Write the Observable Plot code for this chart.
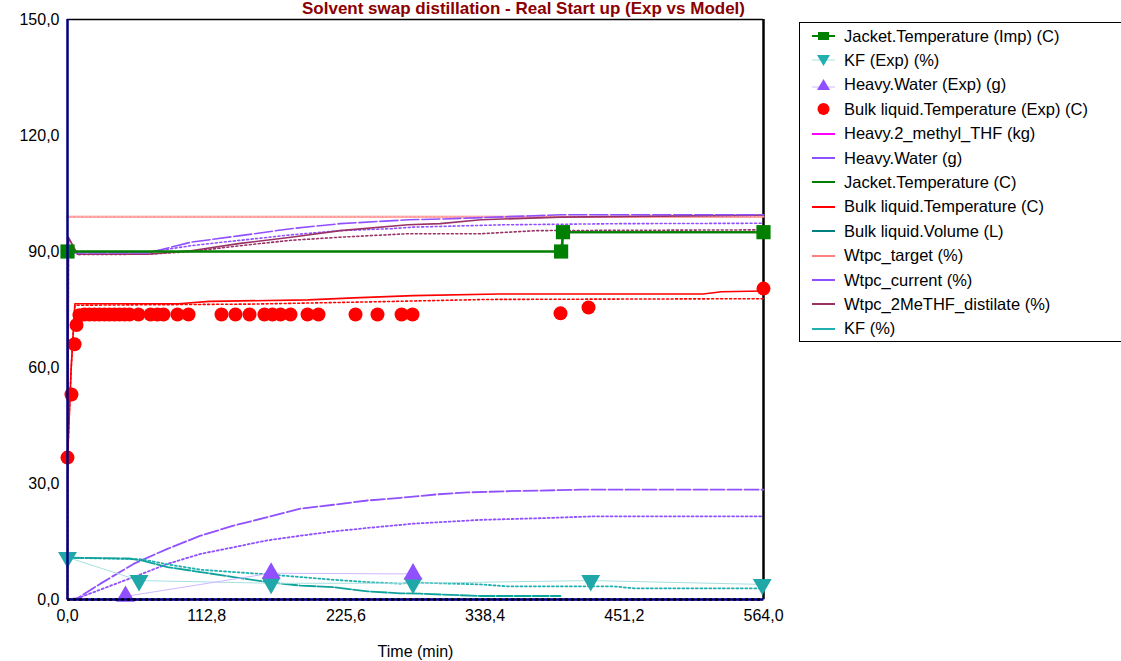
<!DOCTYPE html>
<html><head><meta charset="utf-8">
<script src="https://cdn.jsdelivr.net/npm/d3@7"></script>
<script src="https://cdn.jsdelivr.net/npm/@observablehq/plot@0.6"></script>
<style>
body{margin:0;background:#fff;font-family:Arial,"Liberation Sans",sans-serif;}
#wrap{position:relative;width:1121px;height:661px;overflow:hidden;}
#title{position:absolute;left:0;top:0;width:745px;text-align:right;font:bold 17px/18px Arial,"Liberation Sans",sans-serif;color:#8b0000;white-space:nowrap;}
#legend{position:absolute;left:799px;top:22px;width:330px;height:320px;border:1px solid #000;box-sizing:border-box;background:#fff;}
.row{position:absolute;left:10px;height:24px;display:flex;align-items:center;font:16.5px Arial,"Liberation Sans",sans-serif;color:#000;white-space:nowrap;}
.row svg{margin-right:7px;}
</style></head>
<body><div id="wrap"><div id="chart"></div><div id="title">Solvent swap distillation - Real Start up (Exp vs Model)</div><div id="legend"></div></div>
<script>
// ---- data (time in min, value) ----
const xTicks = [0, 112.8, 225.6, 338.4, 451.2, 564];
const yTicks = [0, 30, 60, 90, 120, 150];

const jacketImp = [[0,90],[400,90],[401.5,95],[564,95]];
const kfExp = [[0,10.9],[58,4.9],[165,4.2],[280,4.2],[424,4.9],[563,3.9]];
const waterExp = [[47,0.8],[165,6.8],[280,6.6]];
const bulkTempExp = [[0,36.7],[3.2,53],[5.7,66],[7.3,71],[9.7,73.5],[13.8,73.7],[17.8,73.7],[21.9,73.7],[25.9,73.7],[30,73.7],[34,73.7],[38.1,73.7],[42.1,73.7],[46.2,73.7],[50.2,73.7],[57.5,73.7],[67.3,73.7],[72.9,73.7],[77.8,73.7],[89.1,73.7],[98.1,73.7],[124.8,73.7],[136.1,73.7],[147.5,73.7],[159.6,73.7],[166.1,73.7],[172.6,73.7],[180.7,73.7],[194.5,73.7],[203.4,73.7],[233.4,73.7],[251.2,73.7],[270.7,73.7],[279.6,73.7],[399.5,74.0],[422.2,75.5],[564,80.4]];

const methylTHF = [[0,0],[564,0]];
const waterModel = [[0,0],[8,0.3],[26.7,4.1],[53.5,9.2],[81,13.1],[107.8,16.5],[134.5,19.1],[162,21.3],[188.8,23.5],[215.6,24.5],[243,25.6],[270,26.3],[299.8,27.2],[324,27.7],[356.6,28.0],[415.7,28.4],[564,28.4]];
const waterModel2 = [[0,0],[8,0.3],[53.5,5.8],[81,9.2],[107.8,11.8],[134.5,13.5],[162,15.3],[188.8,16.5],[215.6,17.6],[243,18.5],[270,19.3],[280,19.6],[334.7,20.6],[381,21.0],[426,21.5],[564,21.5]];
const jacketModel = [[0,90],[401,90],[401.5,95],[564,95]];
const bulkTempModel = [[0,36],[3,60],[6,76.5],[90,76.5],[115,77.1],[195,77.5],[232,78.0],[280,78.6],[350,79.0],[515,79.0],[530,79.6],[564,79.8]];
const bulkTempModel2 = [[0,36],[3,60],[6,76.1],[150,76.4],[250,77.0],[340,77.6],[564,77.8]];
const bulkVolume = [[0,0],[564,0]];
const wtpcTarget = [[0,99],[564,99]];
const wtpcCurrent = [[0,89.6],[65,89.6],[100,92.4],[140,94.1],[181,95.9],[221,97.2],[276,98.2],[302,98.4],[330,98.7],[400,99.5],[564,99.5]];
const wtpcCurrent2 = [[0,89.8],[65,89.8],[100,91.5],[140,92.9],[181,94.3],[221,95.4],[262,95.9],[280,96.3],[353,96.9],[448,97.2],[564,97.3]];
const wtpc2Me = [[0,0],[0.8,93.6],[8,89.3],[65,89.3],[100,90.2],[140,92.1],[181,93.7],[221,95.4],[276,96.9],[302,97.2],[335,98.2],[400,98.9],[564,99.4]];
const wtpc2Me2 = [[0,0],[0.8,93.6],[8,89.2],[65,89.3],[100,90.0],[140,91.5],[181,92.9],[221,93.7],[276,94.6],[335,94.6],[380,95.4],[564,95.6]];
const kfModel = [[0,10.8],[50,10.6],[60,10.1],[81,8.4],[107.8,7.1],[134.5,5.8],[162,4.5],[188.8,3.6],[215.6,3.2],[243,2.1],[270,1.6],[286,1.5],[334.7,0.9],[399.5,0.9]];
const kfModel2 = [[0,10.8],[60,10.4],[81,9.1],[107.8,7.7],[134.5,7.1],[162,6.5],[188.8,5.8],[215.6,5.1],[243,4.5],[270,4.1],[280,4.4],[334.7,3.9],[356.6,3.4],[442,3.4],[459,2.9],[564,2.9]];

const legendItems = [
  ["Jacket.Temperature (Imp) (C)", "#008000", "square"],
  ["KF (Exp) (%)", "#20b0b0", "tridown"],
  ["Heavy.Water (Exp) (g)", "#9050ff", "triup"],
  ["Bulk liquid.Temperature (Exp) (C)", "#ff0000", "circle"],
  ["Heavy.2_methyl_THF (kg)", "#ff00ff", "line"],
  ["Heavy.Water (g)", "#9050ff", "line"],
  ["Jacket.Temperature (C)", "#008000", "line"],
  ["Bulk liquid.Temperature (C)", "#ff0000", "line"],
  ["Bulk liquid.Volume (L)", "#008080", "line"],
  ["Wtpc_target (%)", "#ff8080", "line"],
  ["Wtpc_current (%)", "#9050ff", "line"],
  ["Wtpc_2MeTHF_distilate (%)", "#993366", "line"],
  ["KF (%)", "#20b0b0", "line"]
];

const fx = d => d[0], fy = d => d[1];
const fmt = d => d.toFixed(1).replace(".", ",");
const L = (data, stroke, opts = {}) => Plot.line(data, {x: fx, y: fy, stroke, strokeWidth: 1.6, curve: "linear", ...opts});

const chart = Plot.plot({
  width: 1121, height: 661,
  marginLeft: 67, marginRight: 358, marginTop: 19, marginBottom: 62,
  style: {fontFamily: "Arial, 'Liberation Sans', sans-serif", fontSize: "16px", color: "#000", background: "#fff"},
  x: {domain: [0, 564], ticks: xTicks, tickFormat: fmt, tickSize: 0, tickPadding: 8, label: null},
  y: {domain: [0, 150], ticks: yTicks, tickFormat: fmt, tickSize: 0, tickPadding: 8, label: null},
  marks: [
    Plot.axisX({ticks: xTicks, tickFormat: fmt, tickSize: 0, tickPadding: 10, label: null, fontSize: 16}),
    Plot.axisY({ticks: yTicks, tickFormat: fmt, tickSize: 0, tickPadding: 8, label: null, fontSize: 16}),
    Plot.text(["Time (min)"], {x: 282, y: 0, dy: 57, frameAnchor: "bottom", text: d => d, fontSize: 16}),
    Plot.ruleY([150], {stroke: "#000", strokeWidth: 1.5}),
    Plot.ruleX([564], {stroke: "#000", strokeWidth: 2.5}),
    // model lines
    L(wtpcTarget, "#ff8080", {strokeWidth: 2}),
    L(wtpcTarget, "#ffb0b0", {strokeWidth: 1.5, strokeDasharray: "2,2"}),
    L(wtpc2Me2, "#993366", {strokeDasharray: "2,2.5"}),
    L(wtpcCurrent2, "#9050ff", {strokeDasharray: "2,2.5"}),
    L(wtpc2Me, "#993366"),
    L(wtpcCurrent, "#9050ff", {strokeDasharray: "18,3"}),
    L(jacketModel, "#008000", {strokeWidth: 2}),
    L(bulkTempModel2, "#ff0000", {strokeDasharray: "2,2.5"}),
    L(bulkTempModel, "#ff0000"),
    L(waterModel2, "#9050ff", {strokeDasharray: "2,2.5", strokeWidth: 1.8}),
    L(waterModel, "#9050ff", {strokeDasharray: "14,3", strokeWidth: 1.8}),
    L(kfModel2, "#20b0b0", {strokeDasharray: "2,2.5", strokeWidth: 1.8}),
    L(kfModel, "#10a39b", {strokeDasharray: "16,2", strokeWidth: 1.8}),
    L(bulkVolume, "#008080"),
    L(methylTHF, "#ff00ff"),
    // experimental series
    L(kfExp, "#a8e0e0", {strokeWidth: 1}),
    L(waterExp, "#d0b8ff", {strokeWidth: 1}),
    L(jacketImp, "#008000", {strokeWidth: 2}),
    Plot.dot(jacketImp, {x: fx, y: fy, symbol: "square", r: 8, fill: "#008000"}),
    Plot.dot(kfExp, {x: fx, y: fy, symbol: "triangle", rotate: 180, r: 7, fill: "#20a8a8"}),
    Plot.dot(waterExp, {x: fx, y: fy, symbol: "triangle", r: 7, fill: "#9050ff"}),
    Plot.dot(bulkTempExp, {x: fx, y: fy, r: 7, fill: "#ff0000"}),
    // axes lines
    Plot.ruleX([0], {stroke: "#000080", strokeWidth: 2.5}),
    Plot.ruleY([0], {stroke: "#000080", strokeWidth: 2.5}),
    Plot.ruleY([0], {stroke: "#000", strokeWidth: 2.5, strokeDasharray: "3,3"})
  ]
});
document.getElementById("chart").appendChild(chart);

// legend
const leg = document.getElementById("legend");
legendItems.forEach(([label, color, kind], i) => {
  const row = document.createElement("div");
  row.className = "row";
  row.style.top = (1 + i * 24.4) + "px";
  let sym = "";
  if (kind === "line") sym = `<line x1="2" y1="12" x2="25" y2="12" stroke="${color}" stroke-width="2"/>`;
  else if (kind === "square") sym = `<line x1="2" y1="12" x2="25" y2="12" stroke="${color}" stroke-width="2"/><rect x="8" y="8" width="11" height="8" fill="${color}"/>`;
  else if (kind === "tridown") sym = `<line x1="2" y1="12" x2="25" y2="12" stroke="#a8e0e0" stroke-width="1"/><path d="M7,7 L20,7 L13.5,18 Z" fill="${color}"/>`;
  else if (kind === "triup") sym = `<line x1="2" y1="14" x2="25" y2="14" stroke="#d0b8ff" stroke-width="1"/><path d="M13.5,6 L20,17 L7,17 Z" fill="${color}"/>`;
  else if (kind === "circle") sym = `<circle cx="13.5" cy="12" r="6" fill="${color}"/>`;
  row.innerHTML = `<svg width="27" height="24">${sym}</svg><span>${label}</span>`;
  leg.appendChild(row);
});
</script>
</body></html>
